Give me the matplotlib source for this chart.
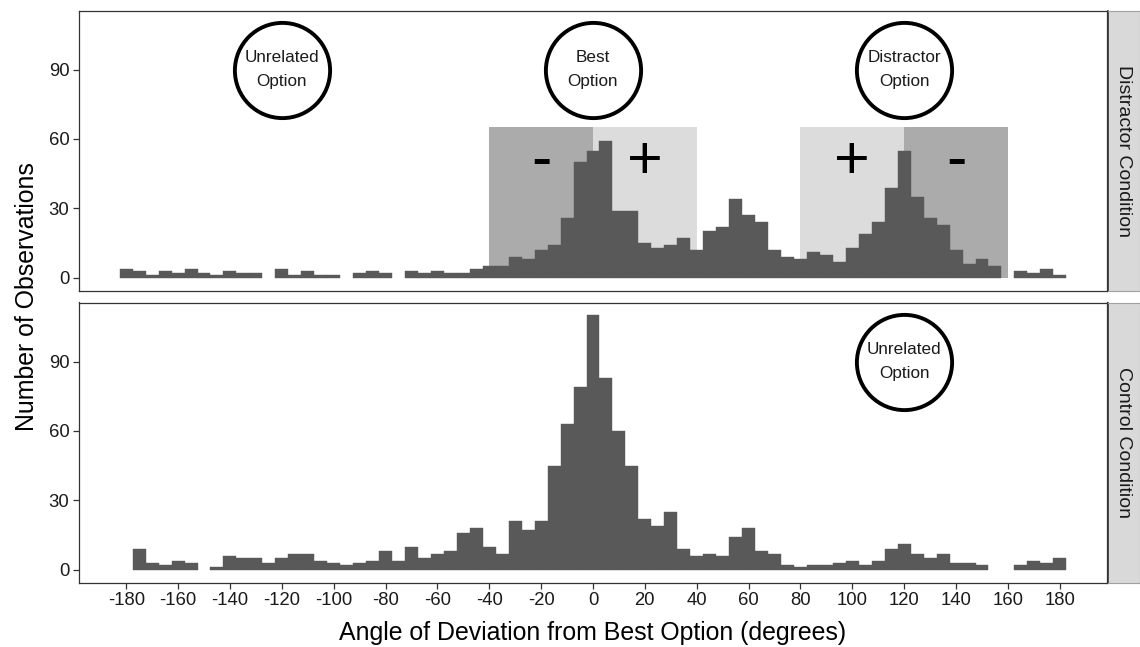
import numpy as np
import matplotlib
matplotlib.use("Agg")
import matplotlib.pyplot as plt

plt.rcParams['font.family'] = ['Liberation Sans', 'DejaVu Sans']
plt.rcParams['axes.unicode_minus'] = False

# bin centres, 5 degree bins from -180 to 180
bin_centers = np.arange(-180, 185, 5)

distractor_counts = [
    4, 3, 1, 3, 2, 4, 2, 1, 3, 2, 2, 0, 4, 1, 3, 1, 1, 0, 2, 3,   # -180 .. -85
    2, 0, 3, 2, 3, 2, 2, 4, 5, 5, 9, 8, 12, 14, 26, 50, 55, 59,   # -80 .. 5
    29, 29, 15, 13, 14, 17, 12, 20, 22, 34, 27, 24, 12, 9, 8,     # 10 .. 80
    11, 10, 7, 13, 19, 24, 39, 55, 35, 26, 23, 12, 6, 8, 5,       # 85 .. 155
    0, 3, 2, 4, 1,                                                # 160 .. 180
]
control_counts = [
    0, 9, 3, 2, 4, 3, 0, 1, 6, 5, 5, 3, 5, 7, 7, 4, 3, 2, 3, 4,   # -180 .. -85
    8, 4, 10, 5, 7, 8, 16, 18, 10, 7, 21, 17, 21, 45, 63, 79,     # -80 .. -5
    110, 83, 60, 45, 22, 19, 25, 9, 6, 7, 6, 14, 18, 8, 7, 2,     # 0 .. 75
    1, 2, 2, 3, 4, 2, 4, 9, 11, 7, 5, 7, 3, 3, 2, 0, 0,           # 80 .. 160
    2, 4, 3, 5,                                                   # 165 .. 180
]

panel_labels = ["Distractor Condition", "Control Condition"]

# shaded zones in the distractor panel
zone_starts = [-40, 0, 80, 120]
zone_ends = [0, 40, 120, 160]
zone_signs = ["-", "+", "+", "-"]
zone_dark = [True, False, False, True]
zone_top = 65

# circled option labels
circle_panel = [0, 0, 0, 1]
circle_x = [-120, 0, 120, 120]
circle_y = [90, 90, 90, 90]
circle_text = ["Unrelated\nOption", "Best\nOption", "Distractor\nOption", "Unrelated\nOption"]

xticks = np.arange(-180, 181, 20)
yticks = [0, 30, 60, 90]

W, H = 1140, 647
fig = plt.figure(figsize=(W / 100, H / 100), dpi=100)

def px_axes(x0, y0, x1, y1):
    return fig.add_axes([x0 / W, 1 - y1 / H, (x1 - x0) / W, (y1 - y0) / H])

bar_color = "#595959"
border = "#333333"

axes = [px_axes(79, 10.5, 1107, 290.5), px_axes(79, 302.5, 1107, 582.5)]
for i, (ax, counts) in enumerate(zip(axes, [distractor_counts, control_counts])):
    if i == 0:
        for s, e, sign, dk in zip(zone_starts, zone_ends, zone_signs, zone_dark):
            ax.fill_between([s, e], 0, zone_top, color="#ababab" if dk else "#dcdcdc",
                            linewidth=0, zorder=1)
            ax.text((s + e) / 2, 43, sign, fontsize=44, ha="center", va="baseline",
                    color="black", zorder=4)
    counts = np.array(counts)
    keep = counts > 0
    ax.bar(bin_centers[keep], counts[keep], width=5, color=bar_color, linewidth=0.3,
           edgecolor=bar_color, zorder=2)

    for p, cx, cy, t in zip(circle_panel, circle_x, circle_y, circle_text):
        if p != i:
            continue
        ax.scatter([cx], [cy], s=4700, facecolors="white", edgecolors="black",
                   linewidths=2.8, zorder=5)
        ax.text(cx, cy, t, fontsize=12.3, ha="center", va="center",
                linespacing=1.75, color="#1a1a1a", zorder=6)

    ax.set_xlim(-198.2, 198.2)
    ax.set_ylim(-5.5, 115.5)
    ax.set_yticks(yticks)
    ax.set_xticks(xticks)
    ax.tick_params(direction="out", length=4, width=0.9, color=border,
                   labelsize=13.3, labelcolor="#1a1a1a", pad=3)
    for sp in ax.spines.values():
        sp.set_color(border)
        sp.set_linewidth(0.9)
    if i == 0:
        ax.tick_params(axis="x", length=0, labelbottom=False)

    # facet strip
    top = 10.5 if i == 0 else 302.5
    sx = px_axes(1108, top, 1139.5, top + 280)
    sx.set_facecolor("#d9d9d9")
    sx.set_xticks([])
    sx.set_yticks([])
    for name, sp in sx.spines.items():
        sp.set_color("#a0a0a0")
        sp.set_linewidth(0.8)
    sx.spines["left"].set_color(border)
    sx.spines["left"].set_linewidth(1.2)
    sx.text(0.5, 0.5, panel_labels[i], rotation=270, ha="center", va="center",
            fontsize=14, color="#1a1a1a", transform=sx.transAxes)

fig.text(593 / W, 1 - 633 / H, "Angle of Deviation from Best Option (degrees)",
         ha="center", va="center", fontsize=17.9, color="black")
fig.text(27 / W, 1 - 297 / H, "Number of Observations", rotation=90,
         ha="center", va="center", fontsize=17.9, color="black")

fig.savefig("out.png", dpi=100)
